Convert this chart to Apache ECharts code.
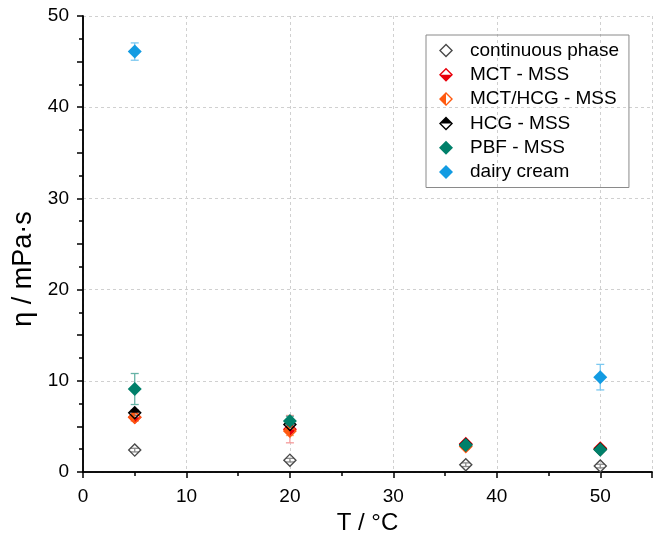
<!DOCTYPE html>
<html>
<head>
<meta charset="utf-8">
<script src="https://cdn.jsdelivr.net/npm/echarts@6/dist/echarts.min.js"></script>
<style>
  html, body { margin: 0; padding: 0; background: #fff; }
  #chart { width: 661px; height: 548px; }
</style>
</head>
<body>
<div id="chart"></div>
<script>
// temperatures (°C)
const temps = [5, 20, 37, 50];
const creamTemps = [5, 50];

// viscosity values (mPa·s) and error (±)
const contVal = [2.4, 1.3, 0.8, 0.65];
const contErr = [0.2, 0.2, 0.2, 0.2];
const mctVal = [6.0, 4.7, 3.1, 2.6];
const mctErr = [0.4, 1.5, 0.2, 0.2];
const mixVal = [6.0, 4.5, 2.8, 2.5];
const mixErr = [0.4, 0.5, 0.3, 0.2];
const hcgVal = [6.5, 5.2, 3.0, 2.5];
const hcgErr = [0.3, 0.3, 0.2, 0.2];
const pbfVal = [9.1, 5.6, 2.95, 2.45];
const pbfErr = [1.7, 0.5, 0.2, 0.2];
const creamVal = [46.1, 10.4];
const creamErr = [0.95, 1.4];

const font = "Liberation Sans, Arial, sans-serif";

// diamond symbols: ring + filled part
const ring = "M10 0 L20 10 L10 20 L0 10 Z M10 2.8 L2.8 10 L10 17.2 L17.2 10 Z";
const symOpen = "path://" + ring;
const symBottom = "path://" + ring + " M0 10 L20 10 L10 20 Z";
const symLeft = "path://" + ring + " M10 0 L10 20 L0 10 Z";
const symTop = "path://" + ring + " M10 0 L20 10 L0 10 Z";
const symFull = "diamond";

function pts(xs, ys) {
    return xs.map((x, i) => [x, ys[i]]);
}
function bars(xs, ys, es) {
    return xs.map((x, i) => [x, ys[i] - es[i], ys[i] + es[i]]);
}

function errSeries(name, xs, ys, es, color) {
    return {
        name: name + "_err",
        type: "custom",
        data: bars(xs, ys, es),
        encode: { x: 0, y: [1, 2] },
        silent: true,
        z: 2,
        renderItem: function (params, api) {
            const x = api.value(0);
            const top = api.coord([x, api.value(2)]);
            const bot = api.coord([x, api.value(1)]);
            const w = 4;
            const st = { stroke: color, lineWidth: 1.3 };
            return {
                type: "group",
                children: [
                    { type: "line", shape: { x1: top[0], y1: top[1], x2: bot[0], y2: bot[1] }, style: st },
                    { type: "line", shape: { x1: top[0] - w, y1: top[1], x2: top[0] + w, y2: top[1] }, style: st },
                    { type: "line", shape: { x1: bot[0] - w, y1: bot[1], x2: bot[0] + w, y2: bot[1] }, style: st },
                ],
            };
        },
    };
}

function dotSeries(name, xs, ys, symbol, color) {
    return {
        name: name,
        type: "scatter",
        data: pts(xs, ys),
        symbol: symbol,
        symbolSize: 14,
        itemStyle: { color: color, opacity: 1 },
        z: 3,
    };
}

const groups = [
    { name: "continuous phase", xs: temps, ys: contVal, es: contErr, sym: symOpen, color: "#4a4a4a", err: "#8a8a8a" },
    { name: "MCT - MSS", xs: temps, ys: mctVal, es: mctErr, sym: symBottom, color: "#e8000b", err: "#f49a9a" },
    { name: "MCT/HCG - MSS", xs: temps, ys: mixVal, es: mixErr, sym: symLeft, color: "#ff5a10", err: "#ffa878" },
    { name: "HCG - MSS", xs: temps, ys: hcgVal, es: hcgErr, sym: symTop, color: "#000000", err: "#777777" },
    { name: "PBF - MSS", xs: temps, ys: pbfVal, es: pbfErr, sym: symFull, color: "#00806a", err: "#66b3a6" },
    { name: "dairy cream", xs: creamTemps, ys: creamVal, es: creamErr, sym: symFull, color: "#129be2", err: "#7cc8f0" },
];

const series = [];
groups.forEach((g) => {
    series.push(errSeries(g.name, g.xs, g.ys, g.es, g.err));
    series.push(dotSeries(g.name, g.xs, g.ys, g.sym, g.color));
});

const chart = echarts.init(document.getElementById("chart"));

const axisLineStyle = { color: "#000", width: 1.5 };
const gridLine = { show: true, lineStyle: { color: "#d0d0d0", type: [3, 3], width: 1 } };

const option = {
    animation: false,
    backgroundColor: "#fff",
    grid: { left: 83, right: 9, top: 16, bottom: 76 },
    legend: {
        orient: "vertical",
        left: 426,
        top: 35,
        padding: [6, 10, 6, 13],
        borderColor: "#8a8a8a",
        borderWidth: 1,
        itemWidth: 14,
        itemHeight: 14,
        itemGap: 5.3,
        textStyle: { fontFamily: font, fontSize: 19, lineHeight: 19, color: "#000", padding: [0, 0, 0, 12] },
        data: groups.map((g) => ({ name: g.name, icon: g.sym })),
    },
    xAxis: [
        {
            type: "value",
            min: 0,
            max: 55,
            interval: 10,
            name: "T / °C",
            nameLocation: "middle",
            nameGap: 36,
            nameTextStyle: { fontFamily: font, fontSize: 24, color: "#000" },
            axisLine: { lineStyle: axisLineStyle },
            axisTick: { show: true, inside: false, length: 6, lineStyle: axisLineStyle },
            minorTick: { show: true, splitNumber: 2, length: 4, lineStyle: axisLineStyle },
            axisLabel: { fontFamily: font, fontSize: 19, color: "#000", margin: 15, showMaxLabel: false },
            splitLine: gridLine,
        },
        {
            type: "value",
            position: "top",
            min: 0,
            max: 55,
            interval: 10,
            axisLine: { show: true, lineStyle: axisLineStyle },
            axisTick: { show: true, inside: true, length: 6, lineStyle: axisLineStyle },
            minorTick: { show: true, splitNumber: 2, length: 4, lineStyle: axisLineStyle },
            axisLabel: { show: false },
            splitLine: { show: false },
        },
    ],
    yAxis: [
        {
            type: "value",
            min: 0,
            max: 50,
            interval: 10,
            name: "η / mPa·s",
            nameLocation: "middle",
            nameGap: 46,
            nameTextStyle: { fontFamily: font, fontSize: 27, color: "#000", padding: [0, 50, 0, 0] },
            axisLine: { show: true, lineStyle: axisLineStyle },
            axisTick: { show: true, inside: false, length: 6, lineStyle: axisLineStyle },
            minorTick: { show: true, splitNumber: 2, length: 4, lineStyle: axisLineStyle },
            axisLabel: { fontFamily: font, fontSize: 19, color: "#000", margin: 14 },
            splitLine: gridLine,
        },
        {
            type: "value",
            position: "right",
            min: 0,
            max: 50,
            interval: 5,
            axisLine: { show: true, lineStyle: axisLineStyle },
            axisTick: { show: true, inside: true, length: 6, lineStyle: axisLineStyle },
            minorTick: { show: true, splitNumber: 2, length: 4, lineStyle: axisLineStyle },
            axisLabel: { show: false },
            splitLine: { show: false },
        },
    ],
    series: series,
};

chart.setOption(option);
</script>
</body>
</html>
